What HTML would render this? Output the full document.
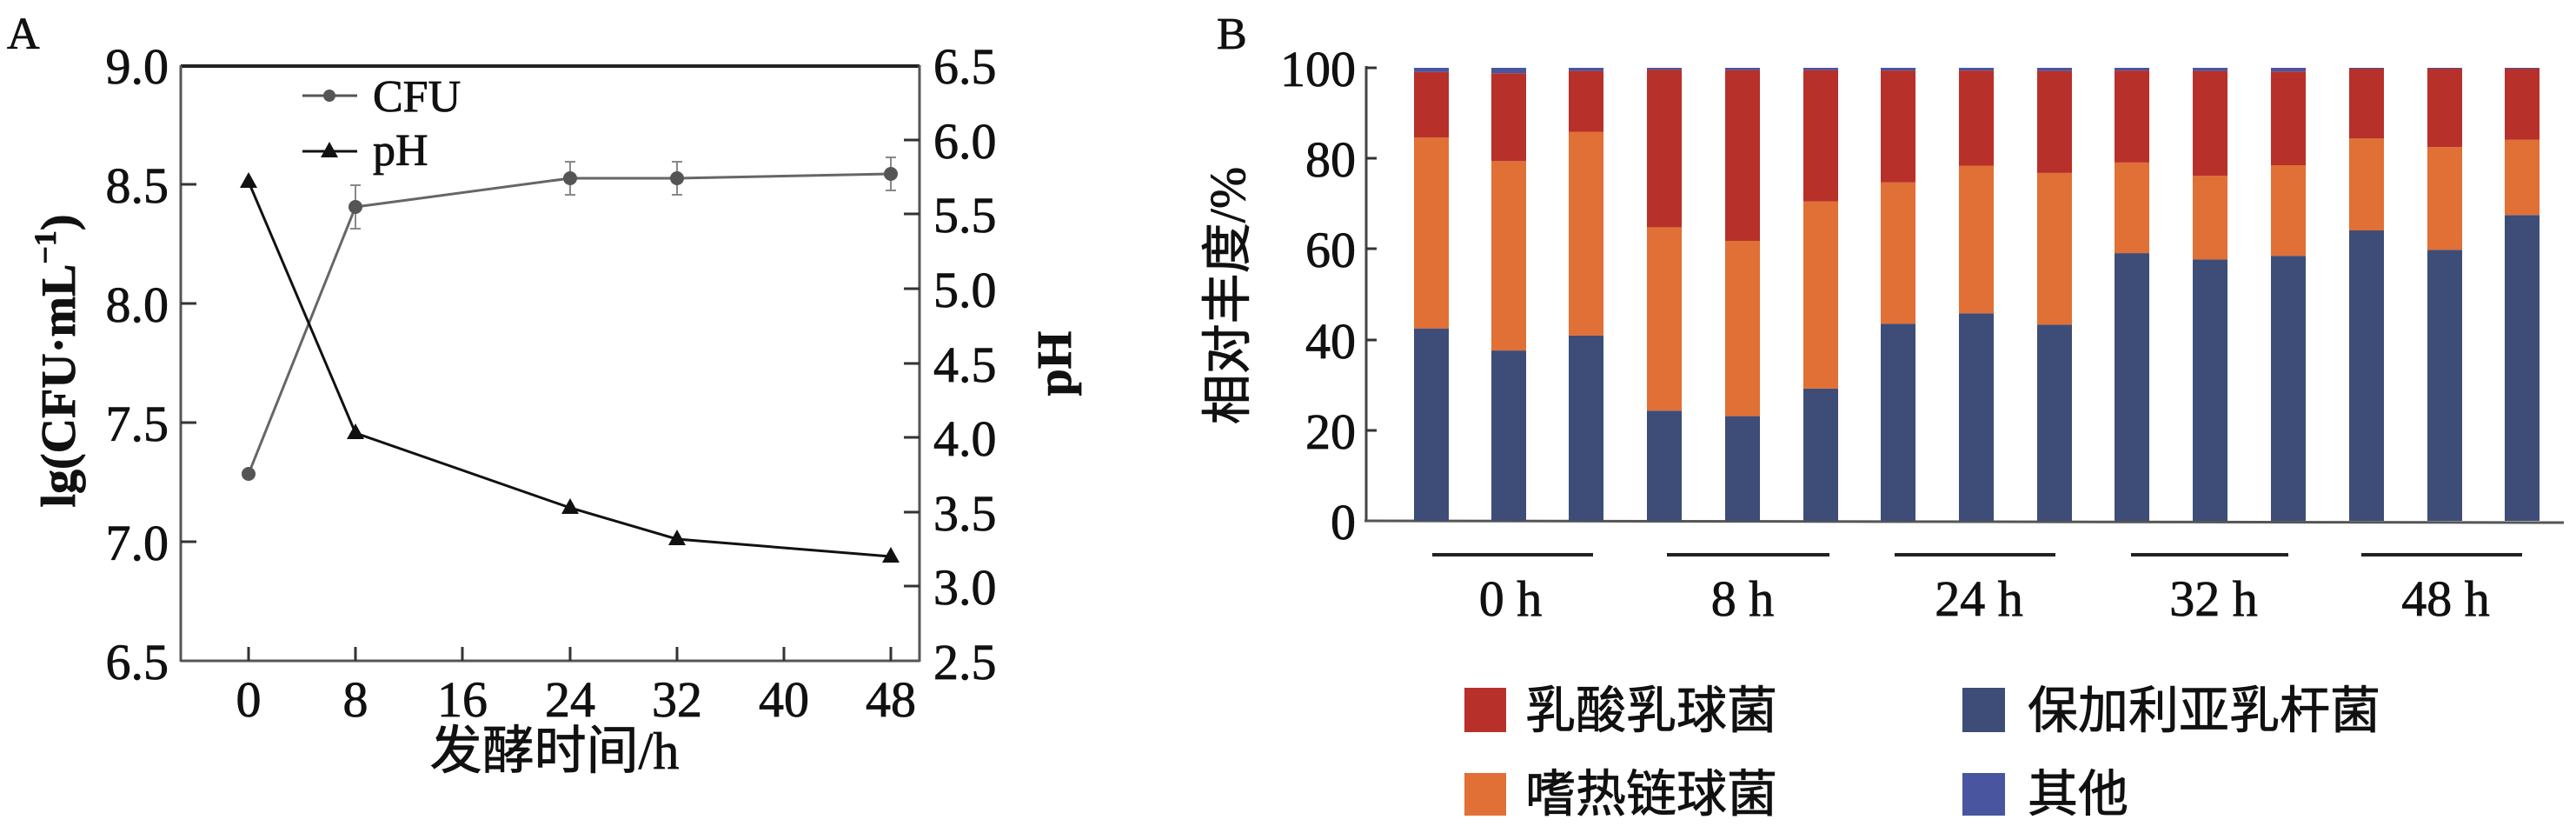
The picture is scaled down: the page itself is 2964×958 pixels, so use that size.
<!DOCTYPE html>
<html><head><meta charset="utf-8"><style>
html,body{margin:0;padding:0;background:#fff;}
svg{display:block;}
text{font-family:"Liberation Serif","Noto Serif CJK SC",serif;fill:#111;stroke:#111;stroke-width:0.8;}
.cj{font-family:"Liberation Serif","Noto Sans CJK SC",sans-serif;}
</style></head><body>
<svg width="2964" height="958" viewBox="0 0 2964 958" xmlns="http://www.w3.org/2000/svg">
<!-- Panel A -->
<text x="8" y="56" font-size="52">A</text>
<line x1="208" y1="76" x2="1058" y2="76" stroke="#222" stroke-width="4"/>
<line x1="208" y1="75" x2="208" y2="761" stroke="#555" stroke-width="3"/>
<line x1="1058" y1="75" x2="1058" y2="761" stroke="#555" stroke-width="3"/>
<line x1="208" y1="760" x2="1058" y2="760" stroke="#555" stroke-width="3"/>
<g stroke="#333" stroke-width="3">
<line x1="286" y1="760" x2="286" y2="744"/><line x1="409" y1="760" x2="409" y2="744"/><line x1="532" y1="760" x2="532" y2="744"/><line x1="656" y1="760" x2="656" y2="744"/><line x1="779" y1="760" x2="779" y2="744"/><line x1="902" y1="760" x2="902" y2="744"/><line x1="1025" y1="760" x2="1025" y2="744"/>
<line x1="208" y1="212" x2="226" y2="212"/><line x1="208" y1="349" x2="226" y2="349"/><line x1="208" y1="486" x2="226" y2="486"/><line x1="208" y1="623" x2="226" y2="623"/>
<line x1="1040" y1="161" x2="1058" y2="161"/><line x1="1040" y1="246" x2="1058" y2="246"/><line x1="1040" y1="332" x2="1058" y2="332"/><line x1="1040" y1="418" x2="1058" y2="418"/><line x1="1040" y1="503" x2="1058" y2="503"/><line x1="1040" y1="589" x2="1058" y2="589"/><line x1="1040" y1="674" x2="1058" y2="674"/>
</g>
<g font-size="58" text-anchor="end">
<text x="194" y="96">9.0</text><text x="194" y="233">8.5</text><text x="194" y="370">8.0</text><text x="194" y="507">7.5</text><text x="194" y="644">7.0</text><text x="194" y="781">6.5</text>
</g>
<g font-size="58" text-anchor="start">
<text x="1074" y="96">6.5</text><text x="1074" y="182">6.0</text><text x="1074" y="267">5.5</text><text x="1074" y="353">5.0</text><text x="1074" y="439">4.5</text><text x="1074" y="524">4.0</text><text x="1074" y="610">3.5</text><text x="1074" y="695">3.0</text><text x="1074" y="781">2.5</text>
</g>
<g font-size="58" text-anchor="middle">
<text x="286" y="824">0</text><text x="409" y="824">8</text><text x="532" y="824">16</text><text x="656" y="824">24</text><text x="779" y="824">32</text><text x="902" y="824">40</text><text x="1025" y="824">48</text>
</g>
<text class="cj" x="638" y="884" font-size="60" text-anchor="middle">发酵时间/h</text>
<text transform="translate(86,415) rotate(-90)" font-size="56" font-weight="bold" text-anchor="middle">lg(CFU·mL<tspan font-size="36" dy="-22">−1</tspan><tspan dy="22">)</tspan></text>
<text transform="translate(1232,418) rotate(-90)" font-size="56" font-weight="bold" text-anchor="middle">pH</text>
<!-- legend -->
<line x1="348" y1="110" x2="411" y2="110" stroke="#555" stroke-width="3"/><circle cx="379" cy="110" r="7" fill="#555"/>
<text x="429" y="128" font-size="52">CFU</text>
<line x1="348" y1="174" x2="411" y2="174" stroke="#111" stroke-width="3"/><polygon points="379,163 369,181 389,181" fill="#111"/>
<text x="429" y="190" font-size="52">pH</text>
<!-- CFU -->
<polyline points="286,545 409,238 656,205 779,205 1025,200" fill="none" stroke="#666" stroke-width="3"/>
<g stroke="#888" stroke-width="2">
<line x1="409" y1="213" x2="409" y2="263"/><line x1="403" y1="213" x2="415" y2="213"/><line x1="403" y1="263" x2="415" y2="263"/>
<line x1="656" y1="186" x2="656" y2="224"/><line x1="650" y1="186" x2="662" y2="186"/><line x1="650" y1="224" x2="662" y2="224"/>
<line x1="779" y1="186" x2="779" y2="224"/><line x1="773" y1="186" x2="785" y2="186"/><line x1="773" y1="224" x2="785" y2="224"/>
<line x1="1025" y1="181" x2="1025" y2="219"/><line x1="1019" y1="181" x2="1031" y2="181"/><line x1="1019" y1="219" x2="1031" y2="219"/>
</g>
<g fill="#555"><circle cx="286" cy="545" r="8"/><circle cx="409" cy="238" r="8"/><circle cx="656" cy="205" r="8"/><circle cx="779" cy="205" r="8"/><circle cx="1025" cy="200" r="8"/></g>
<!-- pH -->
<polyline points="286,209 409,498 656,584 779,620 1025,640" fill="none" stroke="#111" stroke-width="3"/>
<g fill="#111">
<polygon points="286,198 276,216 296,216"/><polygon points="409,487 399,505 419,505"/><polygon points="656,573 646,591 666,591"/><polygon points="779,609 769,627 789,627"/><polygon points="1025,629 1015,647 1035,647"/>
</g>
<!-- Panel B -->
<text x="1400" y="56" font-size="52">B</text>
<line x1="1572" y1="76" x2="1572" y2="600" stroke="#444" stroke-width="3"/>
<line x1="1570" y1="599" x2="2950" y2="601" stroke="#555" stroke-width="3"/>
<g stroke="#333" stroke-width="3">
<line x1="1572" y1="78" x2="1584" y2="78"/><line x1="1572" y1="182" x2="1584" y2="182"/><line x1="1572" y1="286" x2="1584" y2="286"/><line x1="1572" y1="391" x2="1584" y2="391"/><line x1="1572" y1="495" x2="1584" y2="495"/>
</g>
<g font-size="58" text-anchor="end">
<text x="1560" y="99">100</text><text x="1560" y="203">80</text><text x="1560" y="307">60</text><text x="1560" y="412">40</text><text x="1560" y="516">20</text><text x="1560" y="620">0</text>
</g>
<text class="cj" transform="translate(1432,340) rotate(-90)" font-size="58" text-anchor="middle">相对丰度/%</text>
<g stroke="#222" stroke-width="4">
<line x1="1648" y1="638" x2="1833" y2="638"/><line x1="1918" y1="638" x2="2105" y2="638"/><line x1="2180" y1="638" x2="2365" y2="638"/><line x1="2452" y1="638" x2="2633" y2="638"/><line x1="2717" y1="638" x2="2902" y2="638"/>
</g>
<g font-size="58" text-anchor="middle">
<text x="1738" y="708">0 h</text><text x="2005" y="708">8 h</text><text x="2277" y="708">24 h</text><text x="2547" y="708">32 h</text><text x="2814" y="708">48 h</text>
</g>
<rect x="1685" y="791" width="48" height="51" fill="#b8302a"/>
<text class="cj" x="1755" y="837" font-size="58">乳酸乳球菌</text>
<rect x="2258" y="791" width="49" height="51" fill="#3d4d78"/>
<text class="cj" x="2333" y="837" font-size="58">保加利亚乳杆菌</text>
<rect x="1685" y="889" width="48" height="49" fill="#e07035"/>
<text class="cj" x="1755" y="933" font-size="58">嗜热链球菌</text>
<rect x="2258" y="889" width="49" height="49" fill="#4a55a0"/>
<text class="cj" x="2333" y="933" font-size="58">其他</text>
<g>
<rect x="1627" y="377.7" width="40" height="221.3" fill="#3d4d78"/><rect x="1627" y="158.1" width="40" height="219.6" fill="#e07035"/><rect x="1627" y="82.7" width="40" height="75.4" fill="#b8302a"/><rect x="1627" y="78" width="40" height="4.7" fill="#4a55a0"/>
<rect x="1716" y="403.1" width="40" height="195.9" fill="#3d4d78"/><rect x="1716" y="185.3" width="40" height="217.8" fill="#e07035"/><rect x="1716" y="84.2" width="40" height="101.1" fill="#b8302a"/><rect x="1716" y="78" width="40" height="6.2" fill="#4a55a0"/>
<rect x="1805" y="385.9" width="40" height="213.1" fill="#3d4d78"/><rect x="1805" y="151.5" width="40" height="234.4" fill="#e07035"/><rect x="1805" y="81.6" width="40" height="69.9" fill="#b8302a"/><rect x="1805" y="78" width="40" height="3.6" fill="#4a55a0"/>
<rect x="1895" y="472.4" width="40" height="126.6" fill="#3d4d78"/><rect x="1895" y="261.4" width="40" height="211" fill="#e07035"/><rect x="1895" y="80.1" width="40" height="181.3" fill="#b8302a"/><rect x="1895" y="78" width="40" height="2.1" fill="#4a55a0"/>
<rect x="1985" y="478.6" width="40" height="120.4" fill="#3d4d78"/><rect x="1985" y="277" width="40" height="201.6" fill="#e07035"/><rect x="1985" y="80.6" width="40" height="196.4" fill="#b8302a"/><rect x="1985" y="78" width="40" height="2.6" fill="#4a55a0"/>
<rect x="2075" y="446.9" width="40" height="152.1" fill="#3d4d78"/><rect x="2075" y="231.7" width="40" height="215.2" fill="#e07035"/><rect x="2075" y="80.6" width="40" height="151.1" fill="#b8302a"/><rect x="2075" y="78" width="40" height="2.6" fill="#4a55a0"/>
<rect x="2164" y="372.4" width="40" height="226.6" fill="#3d4d78"/><rect x="2164" y="209.8" width="40" height="162.6" fill="#e07035"/><rect x="2164" y="81.1" width="40" height="128.7" fill="#b8302a"/><rect x="2164" y="78" width="40" height="3.1" fill="#4a55a0"/>
<rect x="2254" y="360.4" width="40" height="238.6" fill="#3d4d78"/><rect x="2254" y="190.5" width="40" height="169.9" fill="#e07035"/><rect x="2254" y="81.1" width="40" height="109.4" fill="#b8302a"/><rect x="2254" y="78" width="40" height="3.1" fill="#4a55a0"/>
<rect x="2344" y="373.4" width="40" height="225.6" fill="#3d4d78"/><rect x="2344" y="198.9" width="40" height="174.5" fill="#e07035"/><rect x="2344" y="81.6" width="40" height="117.3" fill="#b8302a"/><rect x="2344" y="78" width="40" height="3.6" fill="#4a55a0"/>
<rect x="2433" y="291.1" width="40" height="307.9" fill="#3d4d78"/><rect x="2433" y="186.9" width="40" height="104.2" fill="#e07035"/><rect x="2433" y="81.1" width="40" height="105.8" fill="#b8302a"/><rect x="2433" y="78" width="40" height="3.1" fill="#4a55a0"/>
<rect x="2523" y="298.4" width="40" height="300.6" fill="#3d4d78"/><rect x="2523" y="202" width="40" height="96.4" fill="#e07035"/><rect x="2523" y="81.6" width="40" height="120.4" fill="#b8302a"/><rect x="2523" y="78" width="40" height="3.6" fill="#4a55a0"/>
<rect x="2613" y="294.2" width="40" height="304.8" fill="#3d4d78"/><rect x="2613" y="190" width="40" height="104.2" fill="#e07035"/><rect x="2613" y="82.2" width="40" height="107.8" fill="#b8302a"/><rect x="2613" y="78" width="40" height="4.2" fill="#4a55a0"/>
<rect x="2703" y="265" width="40" height="334" fill="#3d4d78"/><rect x="2703" y="159.3" width="40" height="105.7" fill="#e07035"/><rect x="2703" y="79" width="40" height="80.3" fill="#b8302a"/><rect x="2703" y="78" width="40" height="1" fill="#4a55a0"/>
<rect x="2793" y="287.4" width="40" height="311.6" fill="#3d4d78"/><rect x="2793" y="169.2" width="40" height="118.2" fill="#e07035"/><rect x="2793" y="79" width="40" height="90.2" fill="#b8302a"/><rect x="2793" y="78" width="40" height="1" fill="#4a55a0"/>
<rect x="2882" y="247.3" width="40" height="351.7" fill="#3d4d78"/><rect x="2882" y="160.8" width="40" height="86.5" fill="#e07035"/><rect x="2882" y="79" width="40" height="81.8" fill="#b8302a"/><rect x="2882" y="78" width="40" height="1" fill="#4a55a0"/>
</g>
</svg>
</body></html>
